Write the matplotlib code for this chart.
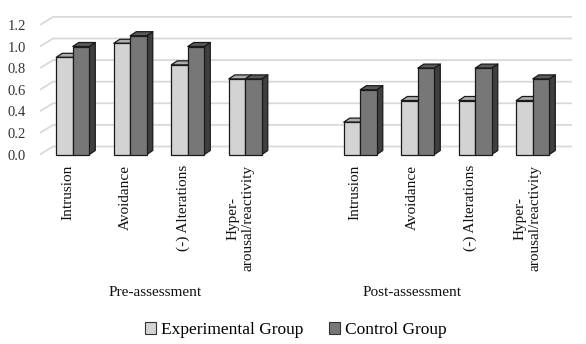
import numpy as np
import matplotlib as mpl; mpl.use('Agg')
import matplotlib.pyplot as plt
from matplotlib.patches import Polygon, Patch

mpl.rcParams.update({'font.family': 'serif', 'font.serif': ['Liberation Serif', 'DejaVu Serif']})

# data
categories = ['Intrusion', 'Avoidance', '(-) Alterations', 'Hyper-\narousal/reactivity']
groups = ['Pre-assessment', 'Post-assessment']
exp_pre = [0.90, 1.03, 0.83, 0.70]
ctl_pre = [1.00, 1.10, 1.00, 0.70]
exp_post = [0.30, 0.50, 0.50, 0.50]
ctl_post = [0.60, 0.80, 0.80, 0.70]
yticks = [0.0, 0.2, 0.4, 0.6, 0.8, 1.0, 1.2]

# colours: front / top / side
EXP = ('#d3d3d3', '#adadad', '#9a9a9a')
CTL = ('#777777', '#5a5a5a', '#3f3f3f')

W, H = 586, 344
SLOT, UNIT = 57.5, 108.0            # px per category slot / per value unit
fig = plt.figure(figsize=(W / 100, H / 100), dpi=100)
ax = fig.add_axes([40 / W, (H - 160) / H, 534 / W, 150 / H])
x_lo = -0.57
ax.set_xlim(x_lo, x_lo + 534 / SLOT)
ax.set_ylim(-5.5 / UNIT, 144.5 / UNIT)
for s in ax.spines.values():
    s.set_visible(False)
ax.set_xticks([])
ax.set_yticks(yticks, [f'{v:.1f}' for v in yticks])
ax.tick_params(axis='y', length=0, pad=10, labelsize=10.5, labelcolor='#333333')

# back wall gridlines with the 3-D floor diagonal
WX, WY = 13 / SLOT, 8 / UNIT
x_hi = ax.get_xlim()[1] - 2 / SLOT
for v in yticks:
    ax.plot([x_lo, x_lo + WX, x_hi], [v, v + WY, v + WY], color='#d9d9d9', lw=1.3, zorder=0,
            solid_capstyle='butt', clip_on=False)

# bars with top and side faces
BW = 16.5 / SLOT
DX, DY = 6 / SLOT, 4 / UNIT
pos = [0, 1, 2, 3, 5, 6, 7, 8]
exp_vals = exp_pre + exp_post
ctl_vals = ctl_pre + ctl_post

def bar3d(x0, h, cols, z):
    x1 = x0 + BW
    ax.add_patch(Polygon([(x1, 0), (x1 + DX, DY), (x1 + DX, h + DY), (x1, h)], closed=True,
                         fc=cols[2], ec='#1a1a1a', lw=0.9, zorder=z, joinstyle='round'))
    ax.add_patch(Polygon([(x0, h), (x0 + DX, h + DY), (x1 + DX, h + DY), (x1, h)], closed=True,
                         fc=cols[1], ec='#1a1a1a', lw=0.9, zorder=z, joinstyle='round'))
    ax.bar(x0, h, width=BW, align='edge', color=cols[0], edgecolor='#1a1a1a', lw=0.9, zorder=z + 0.5)

for i, p in enumerate(pos):
    bar3d(p - BW, exp_vals[i], EXP, 2)
    bar3d(p, ctl_vals[i], CTL, 3)

# category labels
for i, p in enumerate(pos):
    ax.text(p - 5 / SLOT, -10.5 / UNIT, categories[i % 4], rotation=90, ha='center', va='top',
            multialignment='center', fontsize=11, color='#111111', clip_on=False)

for gx, g in zip([155, 412], groups):
    fig.text(gx / W, 1 - 293 / H, g, ha='center', va='center', fontsize=11, color='#111111')

handles = [Patch(fc=EXP[0], ec='#333333', lw=0.8), Patch(fc=CTL[0], ec='#333333', lw=0.8)]
fig.legend(handles, ['Experimental Group', 'Control Group'], loc='center', bbox_to_anchor=(296 / W, 1 - 330 / H),
           ncol=2, frameon=False, fontsize=12.5, handlelength=0.65, handleheight=0.65, handletextpad=0.3,
           columnspacing=1.45, borderpad=0)

fig.savefig('out.png', dpi=100)
